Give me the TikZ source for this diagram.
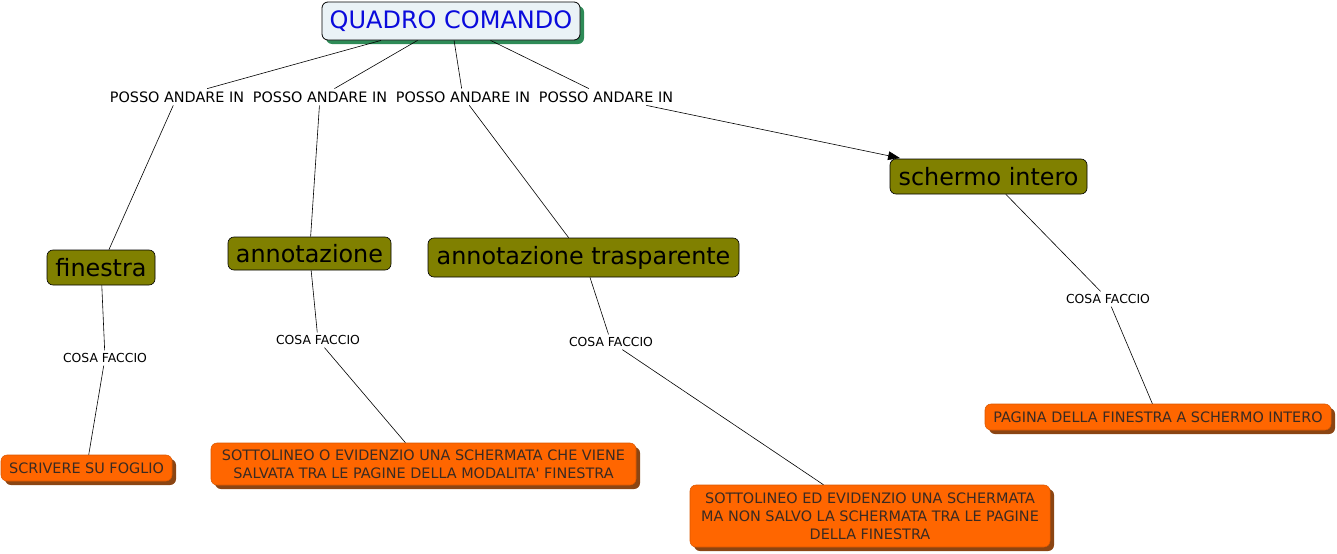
\documentclass[tikz,border=0pt]{standalone}
\usepackage{fontspec}
\setmainfont{DejaVu Sans}
\usetikzlibrary{shadows,arrows.meta}
\definecolor{olivebox}{HTML}{808000}
\definecolor{orangebox}{HTML}{FF6600}
\definecolor{orangeshadow}{HTML}{8B4513}
\definecolor{orangetext}{HTML}{3A2A22}
\definecolor{rootfill}{HTML}{EAF2F6}
\definecolor{rootshadow}{HTML}{2E8B57}
\definecolor{roottext}{HTML}{0A0ADC}
\tikzset{
  rootbox/.style={draw=black, line width=0.6pt, fill=rootfill, rounded corners=4.5pt,
    text=roottext, font=\fontsize{18}{20}\selectfont, inner sep=0pt,
    general shadow={fill=rootshadow, shadow xshift=3pt, shadow yshift=-3pt}},
  conceptbox/.style={draw=black, line width=0.5pt, fill=olivebox, rounded corners=4.5pt,
    text=black, font=\fontsize{17.9}{20}\selectfont, inner sep=0pt},
  leafbox/.style={draw=orangebox!85!black, line width=0.4pt, fill=orangebox, rounded corners=4.5pt,
    text=orangetext, font=\fontsize{10.8}{13.5}\selectfont, inner sep=0pt, align=center,
    general shadow={fill=orangeshadow, shadow xshift=3pt, shadow yshift=-3pt}},
  linklabel/.style={font=\fontsize{10.8}{13}\selectfont, inner sep=2pt, text=black},
  smalllabel/.style={font=\fontsize{9.3}{11}\selectfont, inner sep=2pt, text=black},
  conn/.style={draw=black, line width=0.45pt},
}
\begin{document}
\begin{tikzpicture}[x=0.75pt,y=-0.75pt]
\useasboundingbox (0,0) rectangle (1337,553);

% root
\node[rootbox, minimum width=193.5pt, minimum height=28.5pt] (qc) at (451,21) {QUADRO COMANDO};

% linking phrases
\node[linklabel] (p1) at (177,97) {POSSO ANDARE IN};
\node[linklabel] (p2) at (320,97) {POSSO ANDARE IN};
\node[linklabel] (p3) at (463,97) {POSSO ANDARE IN};
\node[linklabel] (p4) at (606,97) {POSSO ANDARE IN};

% concepts
\node[conceptbox, minimum width=81pt, minimum height=26.25pt] (fin) at (101,267.5) {finestra};
\node[conceptbox, minimum width=122.25pt, minimum height=24.75pt] (ann) at (309.5,253.5) {annotazione};
\node[conceptbox, minimum width=233.25pt, minimum height=29.25pt] (ant) at (583.5,257.5) {annotazione trasparente};
\node[conceptbox, minimum width=147.75pt, minimum height=26.25pt] (sch) at (988.5,176.5) {schermo intero};

% cosa faccio
\node[smalllabel] (c1) at (105,358) {COSA FACCIO};
\node[smalllabel] (c2) at (318,340) {COSA FACCIO};
\node[smalllabel] (c3) at (611,342) {COSA FACCIO};
\node[smalllabel] (c4) at (1108,299) {COSA FACCIO};

% leaves
\node[leafbox, minimum width=128.25pt, minimum height=19.5pt] (scr) at (86.5,468) {SCRIVERE SU FOGLIO};
\node[leafbox, minimum width=318.75pt, minimum height=31.5pt] (sto) at (423.5,464) {SOTTOLINEO O EVIDENZIO UNA SCHERMATA CHE VIENE\\SALVATA TRA LE PAGINE DELLA MODALITA\textquotesingle{} FINESTRA};
\node[leafbox, minimum width=270pt, minimum height=46.5pt] (ste) at (870,516) {SOTTOLINEO ED EVIDENZIO UNA SCHERMATA\\MA NON SALVO LA SCHERMATA TRA LE PAGINE\\DELLA FINESTRA};
\node[leafbox, minimum width=259.5pt, minimum height=19.5pt] (pag) at (1158,417) {PAGINA DELLA FINESTRA A SCHERMO INTERO};

% connectors
\draw[conn] (qc) -- (p1);
\draw[conn] (qc) -- (p2);
\draw[conn] (qc) -- (p3);
\draw[conn] (qc) -- (p4);
\draw[conn] (p1) -- (fin);
\draw[conn] (p2) -- (ann);
\draw[conn] (p3) -- (ant);
\draw[conn, -{Triangle[length=9pt,width=6.5pt]}, shorten >=2pt] (p4) -- (sch);
\draw[conn] (fin) -- (c1);
\draw[conn] (c1) -- (scr);
\draw[conn] (ann) -- (c2);
\draw[conn] (c2) -- (sto);
\draw[conn] (ant) -- (c3);
\draw[conn] (c3) -- (ste);
\draw[conn] (sch) -- (c4);
\draw[conn] (c4) -- (pag);
\end{tikzpicture}
\end{document}
